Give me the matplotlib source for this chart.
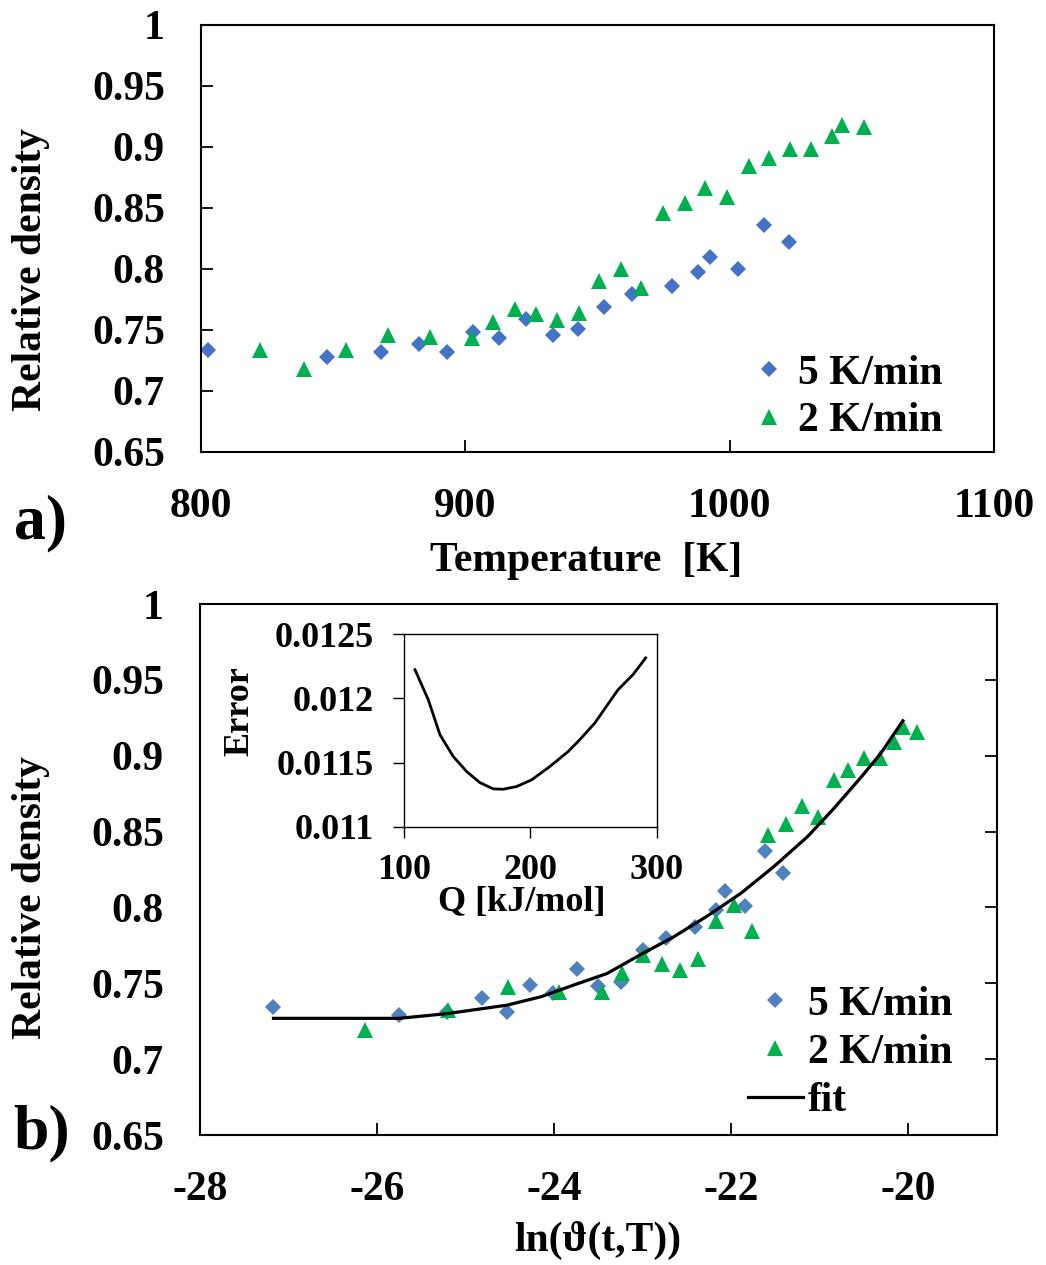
import matplotlib
matplotlib.use('Agg')
import matplotlib.pyplot as plt
from matplotlib.ticker import FuncFormatter, MultipleLocator

plt.rcParams['font.family'] = ['Liberation Serif', 'DejaVu Serif']
plt.rcParams['font.weight'] = 'bold'
plt.rcParams['axes.unicode_minus'] = False

W, H = 1046, 1265

# ---------------- Panel a data ----------------
temp_5K = [802.5, 847.8, 868.2, 882.4, 893.0, 902.9, 912.6, 923.1, 933.0, 942.8,
           952.5, 962.9, 978.2, 987.9, 992.5, 1003.0, 1012.8, 1022.6]
dens_5K = [0.733, 0.728, 0.7315, 0.738, 0.7315, 0.748, 0.743, 0.759, 0.7457, 0.7508,
           0.769, 0.779, 0.786, 0.797, 0.810, 0.800, 0.836, 0.8216]
temp_2K = [822.5, 839.1, 855.0, 870.8, 886.7, 902.5, 910.6, 918.9, 926.7, 934.8,
           943.0, 950.6, 958.9, 966.4, 974.8, 983.0, 990.6, 998.9, 1007.2, 1014.7,
           1023.0, 1030.6, 1038.9, 1042.6, 1050.9]
dens_2K = [0.733, 0.718, 0.733, 0.746, 0.744, 0.743, 0.756, 0.767, 0.7626, 0.758,
           0.764, 0.790, 0.800, 0.784, 0.846, 0.854, 0.866, 0.859, 0.884, 0.8905,
           0.898, 0.898, 0.909, 0.918, 0.9165]

# ---------------- Panel b data ----------------
lnth_5K = [-27.17, -25.75, -25.21, -24.81, -24.53, -24.27, -24.01, -23.74, -23.50, -23.24,
           -23.00, -22.74, -22.41, -22.17, -22.07, -21.84, -21.62, -21.41]
rho_5K = [0.7345, 0.729, 0.7312, 0.740, 0.731, 0.7488, 0.7437, 0.7594, 0.748, 0.751,
          0.7719, 0.7796, 0.7872, 0.798, 0.8107, 0.801, 0.837, 0.8224]
lnth_2K = [-26.14, -25.20, -24.52, -23.95, -23.46, -23.23, -23.00, -22.78, -22.58, -22.37,
           -22.17, -21.97, -21.76, -21.58, -21.38, -21.20, -21.02, -20.84, -20.68, -20.50,
           -20.32, -20.16, -20.06, -19.90]
rho_2K = [0.719, 0.7323, 0.7477, 0.7444, 0.7444, 0.7565, 0.7686, 0.763, 0.759, 0.7657,
          0.791, 0.8015, 0.7844, 0.8476, 0.8553, 0.8667, 0.8597, 0.8843, 0.8909, 0.8988,
          0.8988, 0.9091, 0.9186, 0.9157]
fit_x = [-27.17, -25.75, -25.21, -24.53, -24.15, -23.78, -23.40, -23.02, -22.65, -22.27,
         -21.89, -21.52, -21.14, -20.84, -20.53, -20.31, -20.06]
fit_y = [0.7269, 0.7269, 0.7300, 0.7356, 0.7411, 0.7488, 0.7565, 0.7690, 0.7806, 0.7943,
         0.8093, 0.8268, 0.8465, 0.8652, 0.8860, 0.9015, 0.9230]

# ---------------- Inset data ----------------
Q_vals = [108.7, 119.2, 128.5, 139.0, 149.6, 160.0, 170.6, 178.5, 189.0, 201.0,
          215.4, 229.9, 239.0, 251.0, 260.2, 269.4, 281.2, 291.3]
err_vals = [0.012224, 0.01199, 0.011716, 0.011547, 0.01143, 0.011344, 0.011295, 0.011292,
            0.011313, 0.011365, 0.011469, 0.011586, 0.011677, 0.011808, 0.011938, 0.012068,
            0.012185, 0.012316]

BLUE_A = '#4472C4'
BLUE_B = '#4F81BD'
GREEN = '#00B050'
FS = 30
FS_IN = 26

fig = plt.figure(figsize=(W / 100, H / 100), dpi=100)

def frac_rect(x0, y0, x1, y1):
    return [x0 / W, 1 - y1 / H, (x1 - x0) / W, (y1 - y0) / H]

gfmt = FuncFormatter(lambda v, p: '%g' % round(v, 6))

# ---------------- Panel a ----------------
axa = fig.add_axes(frac_rect(201, 24.7, 994, 451.7))
axa.plot(temp_5K, dens_5K, linestyle='none', marker='D', ms=8.2, color=BLUE_A,
         markeredgewidth=0, label='5 K/min')
axa.plot(temp_2K, dens_2K, linestyle='none', marker='^', ms=11.5, color=GREEN,
         markeredgewidth=0, label='2 K/min')
axa.set_xlim(800, 1100)
axa.set_ylim(0.65, 1.0)
axa.xaxis.set_major_locator(MultipleLocator(100))
axa.yaxis.set_major_locator(MultipleLocator(0.05))
axa.xaxis.set_major_formatter(gfmt)
axa.yaxis.set_major_formatter(gfmt)
axa.tick_params(axis='both', direction='in', length=8.5, width=1.3, labelsize=FS, pad=26)
axa.tick_params(axis='x', top=False)
axa.tick_params(axis='y', right=False)
for s in axa.spines.values():
    s.set_linewidth(1.5)
axa.legend(loc='lower right', bbox_to_anchor=(0.935, 0.027), frameon=False, fontsize=FS,
           borderpad=0, borderaxespad=0, handlelength=1.3, handletextpad=0.05,
           labelspacing=0.22, numpoints=1)

# ---------------- Panel b ----------------
axb = fig.add_axes(frac_rect(200, 604, 996.7, 1135))
axb.plot(lnth_5K, rho_5K, linestyle='none', marker='D', ms=8.0, color=BLUE_B,
         markeredgewidth=0, label='5 K/min')
axb.plot(lnth_2K, rho_2K, linestyle='none', marker='^', ms=11.5, color=GREEN,
         markeredgewidth=0, label='2 K/min')
axb.plot(fit_x, fit_y, color='black', lw=2.3, label='fit')
axb.set_xlim(-28, -19)
axb.set_ylim(0.65, 1.0)
axb.set_xticks([-28, -26, -24, -22, -20])
axb.yaxis.set_major_locator(MultipleLocator(0.05))
axb.xaxis.set_major_formatter(FuncFormatter(lambda v, p: '%d' % round(v)))
axb.yaxis.set_major_formatter(gfmt)
axb.tick_params(axis='both', direction='in', length=9, width=1.3, labelsize=FS, pad=26)
axb.tick_params(axis='y', left=False, right=True, labelleft=True, labelright=False)
axb.tick_params(axis='x', top=False)
for s in axb.spines.values():
    s.set_linewidth(1.5)
axb.legend(loc='lower right', bbox_to_anchor=(0.944, 0.028), frameon=False, fontsize=FS,
           borderpad=0, borderaxespad=0, handlelength=1.32, handletextpad=0.12,
           labelspacing=0.24, numpoints=1)

# ---------------- Inset ----------------
axi = fig.add_axes(frac_rect(404, 634.3, 656.7, 826.7))
axi.plot(Q_vals, err_vals, color='black', lw=2.0)
axi.set_xlim(100, 300)
axi.set_ylim(0.011, 0.0125)
axi.xaxis.set_major_locator(MultipleLocator(100))
axi.yaxis.set_major_locator(MultipleLocator(0.0005))
axi.xaxis.set_major_formatter(gfmt)
axi.yaxis.set_major_formatter(gfmt)
axi.tick_params(axis='both', direction='out', length=8, width=1.0, labelsize=FS_IN)
axi.tick_params(axis='y', pad=14)
axi.tick_params(axis='x', pad=12)
for s in axi.spines.values():
    s.set_linewidth(1.0)
axi.set_facecolor('white')

# ---------------- Texts ----------------
def ftext(x, y, s, **kw):
    fig.text(x / W, 1 - y / H, s, **kw)

ftext(31, 270, 'Relative density', rotation=90, ha='center', va='center', fontsize=FS)
ftext(31, 898, 'Relative density', rotation=90, ha='center', va='center', fontsize=FS)
ftext(586, 561, 'Temperature  [K]', ha='center', va='center', fontsize=FS)
ftext(598, 1240, 'ln(\u03d1(t,T))', ha='center', va='center', fontsize=FS)
ftext(240, 711, 'Error', rotation=90, ha='center', va='center', fontsize=FS_IN)
ftext(522, 902, 'Q [kJ/mol]', ha='center', va='center', fontsize=FS_IN)
ftext(40, 523, 'a)', ha='center', va='center', fontsize=46)
ftext(42, 1133, 'b)', ha='center', va='center', fontsize=46)

fig.savefig('out.png', dpi=100)
